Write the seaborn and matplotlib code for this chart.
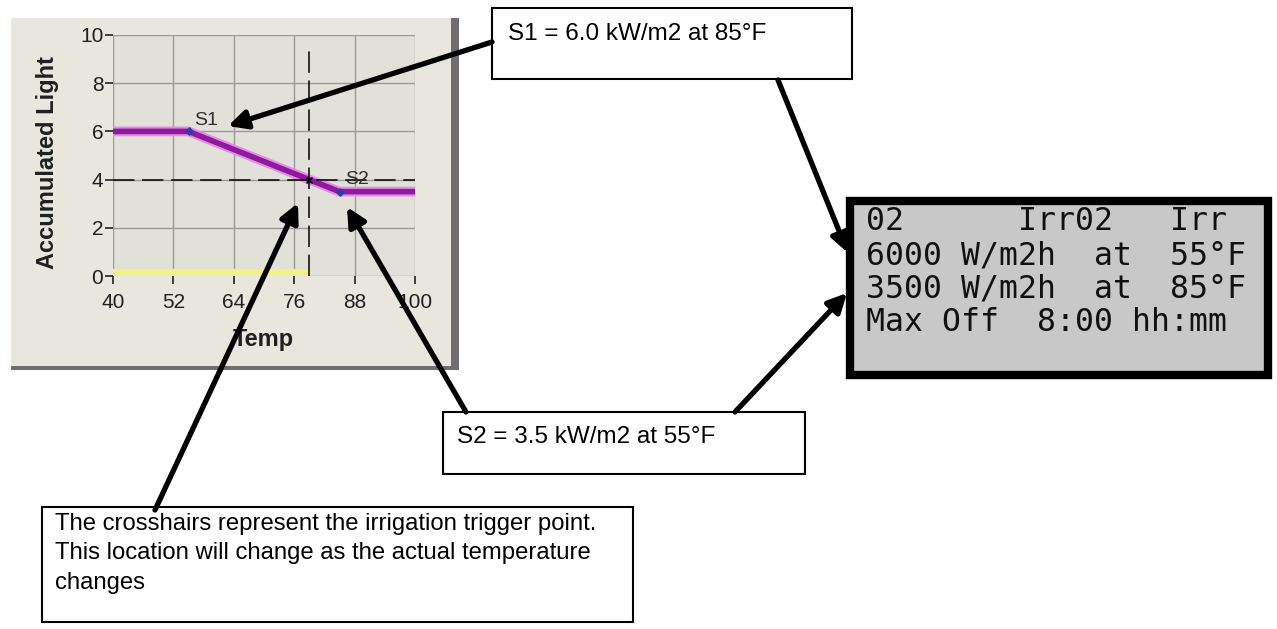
import matplotlib
matplotlib.use("Agg")
import matplotlib.pyplot as plt
import seaborn as sns
import pandas as pd
from matplotlib.patches import Rectangle

# curve data (temperature vs accumulated light setpoints)
temp = [40, 55, 85, 100]
light = [6.0, 6.0, 3.5, 3.5]
set_names = ["S1", "S2"]
set_temp = [55, 85]
set_light = [6.0, 3.5]
cross_temp = 79
cross_light = 4.0
x_ticks = [40, 52, 64, 76, 88, 100]
y_ticks = [0, 2, 4, 6, 8, 10]

s1_text = "S1 = 6.0 kW/m2 at 85°F"
s2_text = "S2 = 3.5 kW/m2 at 55°F"
note_lines = ["The crosshairs represent the irrigation trigger point.",
              "This location will change as the actual temperature",
              "changes"]
lcd_lines = ["02      Irr02   Irr",
             "6000 W/m2h  at  55°F",
             "3500 W/m2h  at  85°F",
             "Max Off  8:00 hh:mm"]

plt.rcParams['font.family'] = ['Liberation Sans', 'DejaVu Sans']

W, H = 1277, 629
fig = plt.figure(figsize=(W / 100, H / 100), dpi=100)
fig.patch.set_facecolor("white")

# background layer: the grey window panel
bg = fig.add_axes([0, 0, 1, 1], zorder=0)
bg.set_xlim(0, W)
bg.set_ylim(H, 0)
bg.axis("off")
bg.add_patch(Rectangle((11, 18), 448, 352, facecolor="#6e6e6e", edgecolor="none"))
bg.add_patch(Rectangle((11, 18), 440, 348, facecolor="#e8e6dd", edgecolor="none"))

def fx(px):
    return px / W

def fy(py):
    return 1 - py / H

# the chart itself
ax = fig.add_axes([fx(113), fy(276), fx(415) - fx(113), fy(35) - fy(276)], zorder=1)
ax.set_facecolor("#e1e0d9")
df = pd.DataFrame({"Temp": temp, "Light": light})

# yellow bar along zero up to the trigger temperature
ax.plot([temp[0], cross_temp], [0.12, 0.12], color="#f2f08e", lw=6, solid_capstyle="butt", zorder=2)
sns.lineplot(data=df, x="Temp", y="Light", ax=ax, color="#e68ae8", lw=7, zorder=3)
sns.lineplot(data=df, x="Temp", y="Light", ax=ax, color="#8c1c9c", lw=4, zorder=4)
ax.scatter(set_temp, set_light, marker="D", s=14, color="#3a3aa0", zorder=5)

# crosshair
ax.plot([temp[0], temp[-1]], [cross_light, cross_light], color="black", lw=1.1,
        dashes=(14, 5), zorder=6)
ax.plot([cross_temp, cross_temp], [0, 9.5], color="black", lw=1.1, dashes=(14, 5), zorder=6)
ax.plot([cross_temp], [cross_light], marker="x", color="black", ms=5, zorder=7)

ax.text(set_temp[0] + 1.2, set_light[0] + 0.45, set_names[0], fontsize=14, color="#303030",
        ha="left", va="center", zorder=8)
ax.text(set_temp[1] + 1.2, set_light[1] + 0.5, set_names[1], fontsize=14, color="#303030",
        ha="left", va="center", zorder=8)

ax.set_xlim(temp[0], temp[-1])
ax.set_ylim(0, 10)
ax.set_xticks(x_ticks)
ax.set_yticks(y_ticks)
ax.grid(True, color="#9a9a9a", lw=1)
ax.set_axisbelow(True)
for s in ax.spines.values():
    s.set_visible(False)
ax.tick_params(axis="both", direction="out", length=6, width=1.2, labelsize=15,
               colors="#202020")
ax.tick_params(axis="x", pad=6)
ax.tick_params(axis="y", pad=1)
ax.set_xlabel("Temp", fontsize=17, fontweight="bold", color="#202020")
ax.set_ylabel("Accumulated Light", fontsize=17, fontweight="bold", color="#202020")
ax.xaxis.set_label_coords(0.497, -0.215)
ax.yaxis.set_label_coords(-0.178, 0.47)

# overlay: call-out boxes, LCD and arrows (pixel coordinates)
ov = fig.add_axes([0, 0, 1, 1], zorder=2)
ov.set_xlim(0, W)
ov.set_ylim(H, 0)
ov.axis("off")
ov.patch.set_alpha(0)

box_kw = dict(facecolor="white", edgecolor="black", lw=1.5)
ov.add_patch(Rectangle((492, 8), 360, 71, **box_kw))
ov.text(508, 34, s1_text, fontsize=17.5, ha="left", va="center")
ov.add_patch(Rectangle((443, 412), 362, 62, **box_kw))
ov.text(457, 437, s2_text, fontsize=17.5, ha="left", va="center")
ov.add_patch(Rectangle((42, 507), 591, 115, **box_kw))
for i, line in enumerate(note_lines):
    ov.text(55, 524 + i * 29.5, line, fontsize=17.2, ha="left", va="center")

ov.add_patch(Rectangle((850, 201), 418, 174, facecolor="#c8c8c8", edgecolor="black", lw=6))
for i, line in enumerate(lcd_lines):
    ov.text(866, 222 + i * 33.5, line, fontsize=22.7, family="DejaVu Sans Mono",
            ha="left", va="center", color="#111111")

arrows = [((492, 42), (228, 126)),
          ((778, 80), (848, 253)),
          ((735, 412), (847, 293)),
          ((466, 412), (347, 207)),
          ((155, 510), (298, 203))]
for tail, tip in arrows:
    ov.annotate("", xy=tip, xytext=tail, xycoords="data", textcoords="data",
                arrowprops=dict(arrowstyle="-|>", lw=3.8, color="black",
                                mutation_scale=28, shrinkA=0, shrinkB=0))

fig.savefig("out.png", dpi=100)
